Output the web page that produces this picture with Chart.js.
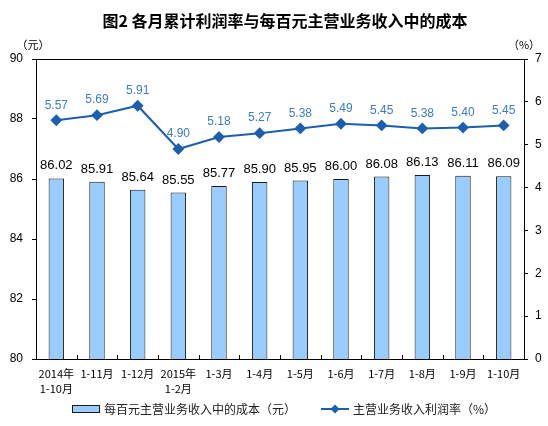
<!DOCTYPE html>
<html>
<head>
<meta charset="utf-8">
<script src="https://cdn.jsdelivr.net/npm/chart.js@4.4.0/dist/chart.umd.min.js"></script>
<style>
  html, body { margin: 0; padding: 0; background: #fff; }
  #wrap { width: 548px; height: 426px; }
</style>
</head>
<body>
<div id="wrap"><canvas id="chart" width="548" height="426"></canvas></div>
<script>
const months = [
  ["2014年", "1-10月"], "1-11月", "1-12月", ["2015年", "1-2月"],
  "1-3月", "1-4月", "1-5月", "1-6月", "1-7月", "1-8月", "1-9月", "1-10月"
];
const costPerHundred = [86.02, 85.91, 85.64, 85.55, 85.77, 85.90, 85.95, 86.00, 86.08, 86.13, 86.11, 86.09];
const profitRate = [5.57, 5.69, 5.91, 4.90, 5.18, 5.27, 5.38, 5.49, 5.45, 5.38, 5.40, 5.45];
const costTicks = [80, 82, 84, 86, 88, 90];
const rateTicks = [0, 1, 2, 3, 4, 5, 6, 7];

const barFill = "#99ccff";
const barEdge = "#1a1a1a";
const lineColor = "#1c5fae";
const lineLabelColor = "#3b7dbf";

// title, labels, frame, legend and unit captions
const extras = {
  id: "extras",
  afterDatasetsDraw(chart) {
    const ctx = chart.ctx;
    const area = chart.chartArea;
    const xs = chart.scales.x;
    ctx.save();

    // top border of the plot box
    ctx.strokeStyle = "#000";
    ctx.lineWidth = 1;
    ctx.beginPath();
    ctx.moveTo(area.left, Math.round(area.top) + 0.5);
    ctx.lineTo(area.right, Math.round(area.top) + 0.5);
    ctx.stroke();

    // small inward ticks between categories
    ctx.beginPath();
    for (let i = 1; i < months.length; i++) {
      const x = Math.round(xs.getPixelForValue(i - 0.5)) + 0.5;
      ctx.moveTo(x, area.bottom);
      ctx.lineTo(x, area.bottom - 4);
    }
    ctx.stroke();

    // value labels
    ctx.textAlign = "center";
    ctx.textBaseline = "bottom";
    ctx.font = "13px 'Liberation Sans'";
    ctx.fillStyle = "#000";
    chart.getDatasetMeta(1).data.forEach((el, i) => {
      ctx.fillText(costPerHundred[i].toFixed(2), el.x, el.y - 6);
    });
    ctx.font = "12px 'Liberation Sans'";
    ctx.fillStyle = lineLabelColor;
    chart.getDatasetMeta(0).data.forEach((el, i) => {
      ctx.fillText(profitRate[i].toFixed(2), el.x, el.y - 9);
    });
    ctx.restore();
  },
  afterDraw(chart) {
    const ctx = chart.ctx;
    ctx.save();
    ctx.fillStyle = "#000";
    ctx.textBaseline = "middle";
    ctx.textAlign = "center";
    ctx.font = "bold 16px 'Noto Sans CJK SC'";
    ctx.fillText("图2 各月累计利润率与每百元主营业务收入中的成本", 285, 21);

    ctx.font = "11px 'Noto Sans CJK SC'";
    ctx.fillText("（元）", 33, 45);
    ctx.fillText("（%）", 524, 45);

    // legend
    const ly = 409;
    ctx.fillStyle = barFill;
    ctx.fillRect(72, ly - 3, 27, 7);
    ctx.strokeStyle = barEdge;
    ctx.lineWidth = 1;
    ctx.strokeRect(72.5, ly - 3.5, 27, 7);
    ctx.font = "12px 'Noto Sans CJK SC'";
    ctx.fillStyle = "#222";
    ctx.textAlign = "left";
    ctx.fillText("每百元主营业务收入中的成本（元）", 104, ly);

    ctx.strokeStyle = lineColor;
    ctx.lineWidth = 2;
    ctx.beginPath();
    ctx.moveTo(321, ly);
    ctx.lineTo(349, ly);
    ctx.stroke();
    ctx.fillStyle = lineColor;
    ctx.beginPath();
    ctx.moveTo(335, ly - 4.5);
    ctx.lineTo(339.5, ly);
    ctx.lineTo(335, ly + 4.5);
    ctx.lineTo(330.5, ly);
    ctx.closePath();
    ctx.fill();
    ctx.fillStyle = "#222";
    ctx.fillText("主营业务收入利润率（%）", 353, ly);
    ctx.restore();
  }
};

const ctx = document.getElementById("chart").getContext("2d");
new Chart(ctx, {
  data: {
    labels: months,
    datasets: [
      {
        type: "line",
        label: "主营业务收入利润率（%）",
        data: profitRate,
        yAxisID: "y1",
        borderColor: lineColor,
        backgroundColor: lineColor,
        borderWidth: 2,
        pointStyle: "rectRot",
        pointRadius: 4.5,
        pointBackgroundColor: lineColor,
        pointBorderColor: lineColor,
        tension: 0,
        order: 0
      },
      {
        type: "bar",
        label: "每百元主营业务收入中的成本（元）",
        data: costPerHundred,
        yAxisID: "y",
        backgroundColor: barFill,
        borderColor: barEdge,
        borderWidth: 1,
        categoryPercentage: 1,
        barPercentage: 0.38,
        order: 1
      }
    ]
  },
  options: {
    responsive: false,
    animation: false,
    layout: { padding: { left: 0, right: 0, top: 59, bottom: 27 } },
    plugins: {
      legend: { display: false },
      tooltip: { enabled: false },
      title: { display: false }
    },
    scales: {
      x: {
        offset: true,
        grid: { display: false, drawTicks: false },
        border: { display: true, color: "#000" },
        ticks: {
          color: "#000",
          font: { family: "Noto Sans CJK SC", size: 11, lineHeight: 1.3 },
          maxRotation: 0,
          autoSkip: false,
          padding: 8
        },
        afterFit(s) { s.height = 40; }
      },
      y: {
        position: "left",
        min: costTicks[0],
        max: costTicks[costTicks.length - 1],
        afterBuildTicks(s) { s.ticks = costTicks.map(v => ({ value: v })); },
        grid: { drawOnChartArea: false, drawTicks: true, tickLength: 4, color: "#000" },
        border: { color: "#000" },
        ticks: {
          color: "#000",
          font: { family: "Liberation Sans", size: 12 },
          padding: 9
        },
        afterFit(s) { s.width = 36; }
      },
      y1: {
        position: "right",
        min: rateTicks[0],
        max: rateTicks[rateTicks.length - 1],
        afterBuildTicks(s) { s.ticks = rateTicks.map(v => ({ value: v })); },
        grid: { drawOnChartArea: false, drawTicks: true, tickLength: 4, color: "#000" },
        border: { color: "#000" },
        ticks: {
          color: "#000",
          font: { family: "Liberation Sans", size: 12 },
          padding: 7
        },
        afterFit(s) { s.width = 24; }
      }
    }
  },
  plugins: [extras]
});
</script>
</body>
</html>
